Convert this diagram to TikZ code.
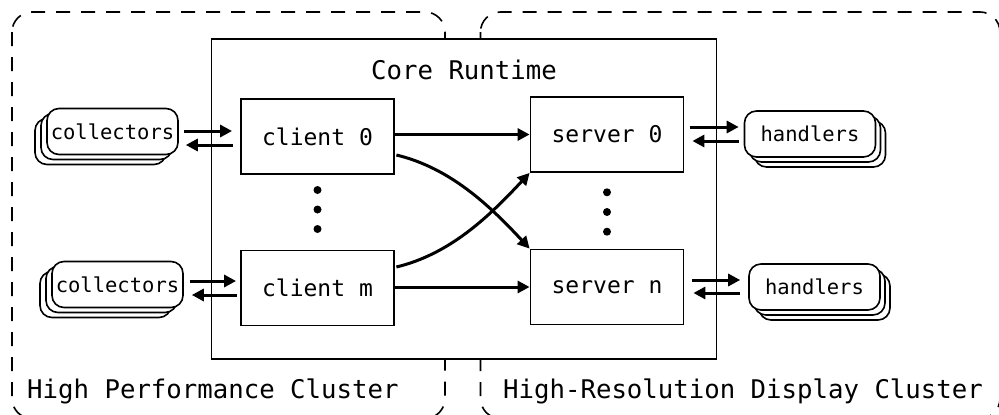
\documentclass[tikz,border=0pt]{standalone}
\usepackage{fontspec}
\setmainfont{DejaVu Sans Mono}
\setmonofont{DejaVu Sans Mono}
\usetikzlibrary{arrows.meta,shadows,calc}

\tikzset{
  cluster/.style={draw, line width=1.6pt, dash pattern=on 14pt off 11pt, rounded corners=20pt},
  runtime/.style={draw, fill=white, line width=1.8pt},
  proc/.style={draw, line width=1.8pt, minimum width=153pt, minimum height=75pt,
               inner sep=0pt, font=\fontsize{23}{27}\selectfont},
  stackbox/.style={draw, fill=white, line width=1.6pt, rounded corners=12pt,
               minimum width=131pt, minimum height=46pt, inner sep=0pt,
               font=\fontsize{20.5}{24}\selectfont},
  leftstack/.style={stackbox, double copy shadow={shadow xshift=-6pt, shadow yshift=-5pt,
               line width=1.6pt}},
  rightstack/.style={stackbox, double copy shadow={shadow xshift=5pt, shadow yshift=-5pt,
               line width=1.6pt}},
  arr/.style={line width=3pt, -{Triangle[length=12pt,width=12pt]}},
  biglabel/.style={font=\fontsize{25.7}{30}\selectfont, inner sep=0pt},
  dotmark/.style={fill=black}
}

\begin{document}
\begin{tikzpicture}[x=1pt,y=-1pt]
  \clip (0,0) rectangle (999,415);
  \fill[white] (0,0) rectangle (999,415);

  % the two clusters
  \draw[cluster] (12,12) rectangle (445,418.5);
  \draw[cluster] (480.5,12) rectangle (1000,418.5);
  \node[biglabel, anchor=base west] (hpc) at (27,398) {High Performance Cluster};
  \node[biglabel, anchor=base west] (hrd) at (503,398) {High-Resolution Display Cluster};

  % core runtime frame, drawn over the cluster outlines
  \draw[runtime] (211.5,39) rectangle (716.5,359);
  \node[biglabel] (core) at (464,70) {Core Runtime};

  % clients and servers
  \node[proc] (c0) at (317.5,136.5) {client 0};
  \node[proc] (cm) at (317.5,288) {client m};
  \node[proc] (s0) at (607,134.5) {server 0};
  \node[proc] (sn) at (607,287) {server n};

  % ellipsis dots
  \foreach \yy in {190,209.5,229} \fill[dotmark] (317.5,\yy) circle (4pt);
  \foreach \yy in {192.3,212,231.7} \fill[dotmark] (607,\yy) circle (4pt);

  % collector and handler stacks
  \node[leftstack] (col0) at (112.5,131.5) {collectors};
  \node[leftstack] (colm) at (117.5,284.5) {collectors};
  \node[rightstack] (h0) at (810,134) {handlers};
  \node[rightstack] (hn) at (814.5,287) {handlers};

  % collectors <-> clients
  \draw[arr] ($(col0.east)+(5,-0.5)$) -- ($(c0.west)+(-8,-5.5)$);
  \draw[arr] ($(c0.west)+(-7,8.5)$) -- ($(col0.east)+(7,13.5)$);
  \draw[arr] ($(colm.east)+(6,-3.5)$) -- ($(cm.west)+(-4,-7)$);
  \draw[arr] ($(cm.west)+(-3,7)$) -- ($(colm.east)+(8,10.5)$);

  % servers <-> handlers
  \draw[arr] ($(s0.east)+(6,-7.5)$) -- ($(h0.west)+(-5,-7)$);
  \draw[arr] ($(h0.west)+(-5,7)$) -- ($(s0.east)+(8,6.5)$);
  \draw[arr] ($(sn.east)+(8,-7)$) -- ($(hn.west)+(-8,-7)$);
  \draw[arr] ($(hn.west)+(-8,6)$) -- ($(sn.east)+(9,6)$);

  % clients -> servers
  \draw[arr] (c0.east |- s0.east) -- (s0.west);
  \draw[arr] (cm.east |- sn.east) -- (sn.west);
  \draw[arr] ($(c0.east)+(1.5,18.5)$) .. controls +(54,13) and +(-40,-43) .. (sn.north west);
  \draw[arr] ($(cm.east)+(1.5,-21)$) .. controls +(54,-13) and +(-40,43) .. (s0.south west);
\end{tikzpicture}
\end{document}
